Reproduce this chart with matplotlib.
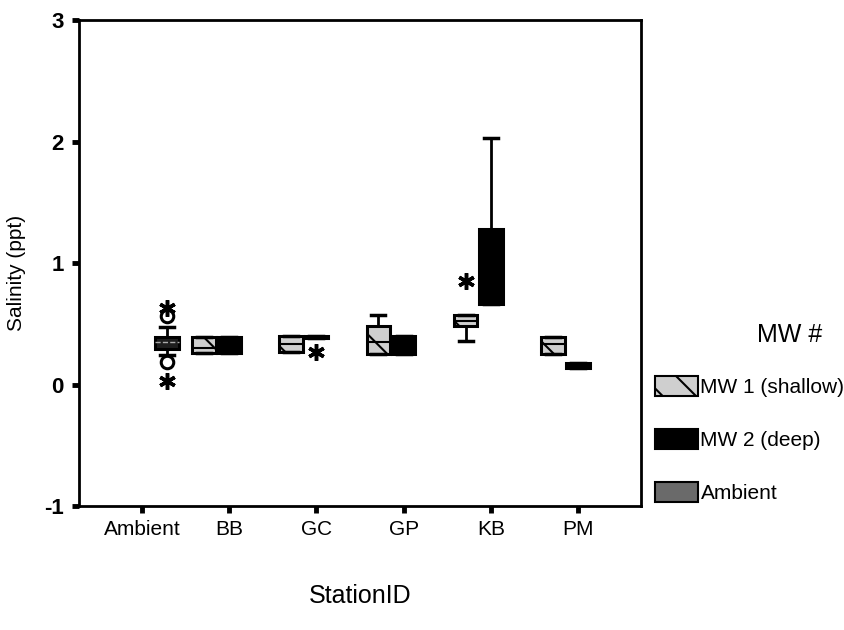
import matplotlib
matplotlib.use('Agg')
import matplotlib.pyplot as plt
from matplotlib.patches import Patch

plt.rcParams['font.family'] = ['Liberation Sans', 'DejaVu Sans']
plt.rcParams['hatch.linewidth'] = 1.5
plt.rcParams['axes.unicode_minus'] = False

stations = ['Ambient', 'BB', 'GC', 'GP', 'KB', 'PM']
groups = ['MW 1 (shallow)', 'MW 2 (deep)', 'Ambient']

# MW 1 (shallow) boxes
mw1_station = ['BB', 'GC', 'GP', 'KB', 'PM']
mw1_q1 = [0.26, 0.27, 0.255, 0.48, 0.255]
mw1_med = [0.30, 0.33, 0.35, 0.52, 0.33]
mw1_q3 = [0.39, 0.40, 0.485, 0.57, 0.395]
mw1_lo = [0.26, 0.27, 0.255, 0.36, 0.255]
mw1_hi = [0.39, 0.40, 0.57, 0.57, 0.395]

# MW 2 (deep) boxes
mw2_station = ['BB', 'GC', 'GP', 'KB', 'PM']
mw2_q1 = [0.26, 0.38, 0.255, 0.66, 0.14]
mw2_med = [0.30, 0.39, 0.30, 0.90, 0.16]
mw2_q3 = [0.39, 0.40, 0.40, 1.28, 0.18]
mw2_lo = [0.26, 0.38, 0.255, 0.66, 0.14]
mw2_hi = [0.39, 0.40, 0.40, 2.03, 0.18]

# Ambient box
amb_station = ['Ambient']
amb_q1 = [0.296]
amb_med = [0.354]
amb_q3 = [0.395]
amb_lo = [0.239]
amb_hi = [0.477]

# outliers (o) and extremes (*)
out_group = ['Ambient', 'Ambient']
out_station = ['Ambient', 'Ambient']
out_value = [0.189, 0.568]
ext_group = ['Ambient', 'Ambient', 'MW 2 (deep)', 'MW 1 (shallow)']
ext_station = ['Ambient', 'Ambient', 'GC', 'KB']
ext_value = [0.025, 0.626, 0.27, 0.856]

offset = {'MW 1 (shallow)': -0.29, 'MW 2 (deep)': 0.0, 'Ambient': 0.29}
box_w = 0.27

fig = plt.figure(figsize=(8.45, 6.3), dpi=100)
ax = fig.add_axes([0.0935, 0.1968, 0.665, 0.7714])


def stats(q1, med, q3, lo, hi):
    res = []
    for i in range(len(q1)):
        res.append({'q1': q1[i], 'med': med[i], 'q3': q3[i],
                    'whislo': lo[i], 'whishi': hi[i], 'fliers': []})
    return res


def pos(names, grp):
    return [stations.index(n) + offset[grp] for n in names]


common = dict(widths=box_w, patch_artist=True, showfliers=False,
              whiskerprops=dict(color='black', lw=2),
              capprops=dict(color='black', lw=2.5), capwidths=0.16,
              manage_ticks=False)

ax.bxp(stats(mw1_q1, mw1_med, mw1_q3, mw1_lo, mw1_hi),
       positions=pos(mw1_station, 'MW 1 (shallow)'),
       boxprops=dict(facecolor='#cfcfcf', edgecolor='black', lw=2.2, hatch='\\'),
       medianprops=dict(color='black', lw=1.5), **common)
ax.bxp(stats(mw2_q1, mw2_med, mw2_q3, mw2_lo, mw2_hi),
       positions=pos(mw2_station, 'MW 2 (deep)'),
       boxprops=dict(facecolor='black', edgecolor='black', lw=2.2),
       medianprops=dict(color='black', lw=1.5), **common)
ax.bxp(stats(amb_q1, amb_med, amb_q3, amb_lo, amb_hi),
       positions=pos(amb_station, 'Ambient'),
       boxprops=dict(facecolor='#1e1e1e', edgecolor='black', lw=2.2),
       medianprops=dict(color='#aaaaaa', lw=1, ls='--'), **common)

for i in range(len(out_value)):
    x = stations.index(out_station[i]) + offset[out_group[i]]
    ax.plot(x, out_value[i], marker='o', ms=9, mfc='none', mec='black', mew=2.2)
for i in range(len(ext_value)):
    x = stations.index(ext_station[i]) + offset[ext_group[i]]
    ax.plot(x, ext_value[i], marker=(6, 2, 0), ms=12, color='black', mew=2.5)

ax.set_xlim(-0.72, 5.72)
ax.set_ylim(-1, 3)
ax.set_yticks([-1, 0, 1, 2, 3])
ax.set_xticks(range(len(stations)))
ax.set_xticklabels(stations)
for s in ax.spines.values():
    s.set_linewidth(2)
ax.tick_params(axis='y', direction='out', length=5, width=3.5, labelsize=16, pad=6)
ax.tick_params(axis='x', direction='out', length=5, width=3.5, labelsize=15, pad=5)
for lab in ax.get_yticklabels():
    lab.set_fontweight('bold')

ax.set_ylabel('Salinity (ppt)', fontsize=15)
ax.yaxis.set_label_coords(-0.094, 0.48)
ax.set_xlabel('StationID', fontsize=18)
ax.xaxis.set_label_coords(0.5, -0.16)

handles = [Patch(facecolor='#cfcfcf', edgecolor='black', hatch='\\', lw=1.5),
           Patch(facecolor='black', edgecolor='black', lw=1.5),
           Patch(facecolor='#6a6a6a', edgecolor='black', lw=1.5)]
fig.legend(handles, groups, loc='upper left', bbox_to_anchor=(0.775, 0.403),
           frameon=False, fontsize=15, handlelength=2.07, handleheight=1.06,
           handletextpad=0.12, labelspacing=1.55, borderpad=0, borderaxespad=0)
fig.text(0.935, 0.468, 'MW #', fontsize=18, ha='center', va='center')

fig.savefig('out.png', dpi=100)
